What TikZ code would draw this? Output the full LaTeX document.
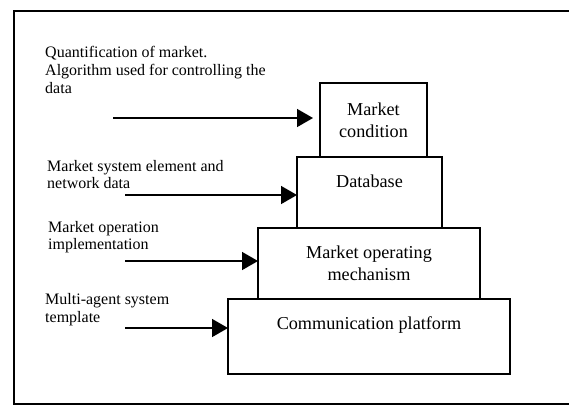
\documentclass[tikz,border=0pt]{standalone}
\usepackage{fontspec}
\setmainfont{Liberation Serif}
\usetikzlibrary{arrows.meta}
\begin{document}
\begin{tikzpicture}[x=1pt,y=-1pt,
  blk/.style={draw,line width=1.6pt,inner sep=0pt,outer sep=0pt},
  boxtext/.style={font=\fontsize{18.2}{22}\selectfont,align=center,inner sep=0pt},
  side/.style={font=\fontsize{16}{18}\selectfont,align=left,anchor=base west,inner sep=0pt},
  feed/.style={line width=1.5pt,-{Triangle[length=16pt,width=18pt]}}]
\useasboundingbox (0,0) rectangle (569,405);
% outer frame (open on the right, as in the reference)
\draw[line width=1.5pt] (569,11) -- (14,11) -- (14,404) -- (569,404);
% boxes
\node[blk,minimum width=282pt,minimum height=75pt] (cp) at (369,336.5) {};
\node[blk,minimum width=222pt,minimum height=71pt] (mom) at (369,263.5) {};
\node[blk,minimum width=145pt,minimum height=71pt] (db) at (369.5,192.5) {};
\node[blk,minimum width=107pt,minimum height=74pt] (mc) at (373.5,120) {};
% box texts
\node[boxtext] (mct) at (mc.center) {Market\\condition};
\node[boxtext,anchor=base] (dbt) at (369.5,187) {Database};
\node[boxtext] (momt) at (mom.center) {Market operating\\mechanism};
\node[boxtext,anchor=base] (cpt) at (369,329) {Communication platform};
% side texts
\node[side] (t1) at (45,57) {Quantification of market.};
\node[side] (t1b) at (45,75) {Algorithm used for controlling the};
\node[side] (t1c) at (45,93) {data};
\node[side] (t2) at (47,171) {Market system element and};
\node[side] (t2b) at (47,188) {network data};
\node[side] (t3) at (48,232) {Market operation};
\node[side] (t3b) at (48,249) {implementation};
\node[side] (t4) at (45,304) {Multi-agent system};
\node[side] (t4b) at (45,322) {template};
% arrows
\coordinate (s1) at (113,118);
\coordinate (s2) at (125,195);
\coordinate (s3) at (125,261);
\coordinate (s4) at (125,328);
\draw[feed,shorten >=7pt] (s1) -- (s1 -| mc.west);
\draw[feed] (s2) -- (s2 -| db.west);
\draw[feed] (s3) -- (s3 -| mom.west);
\draw[feed] (s4) -- (s4 -| cp.west);
\end{tikzpicture}
\end{document}
